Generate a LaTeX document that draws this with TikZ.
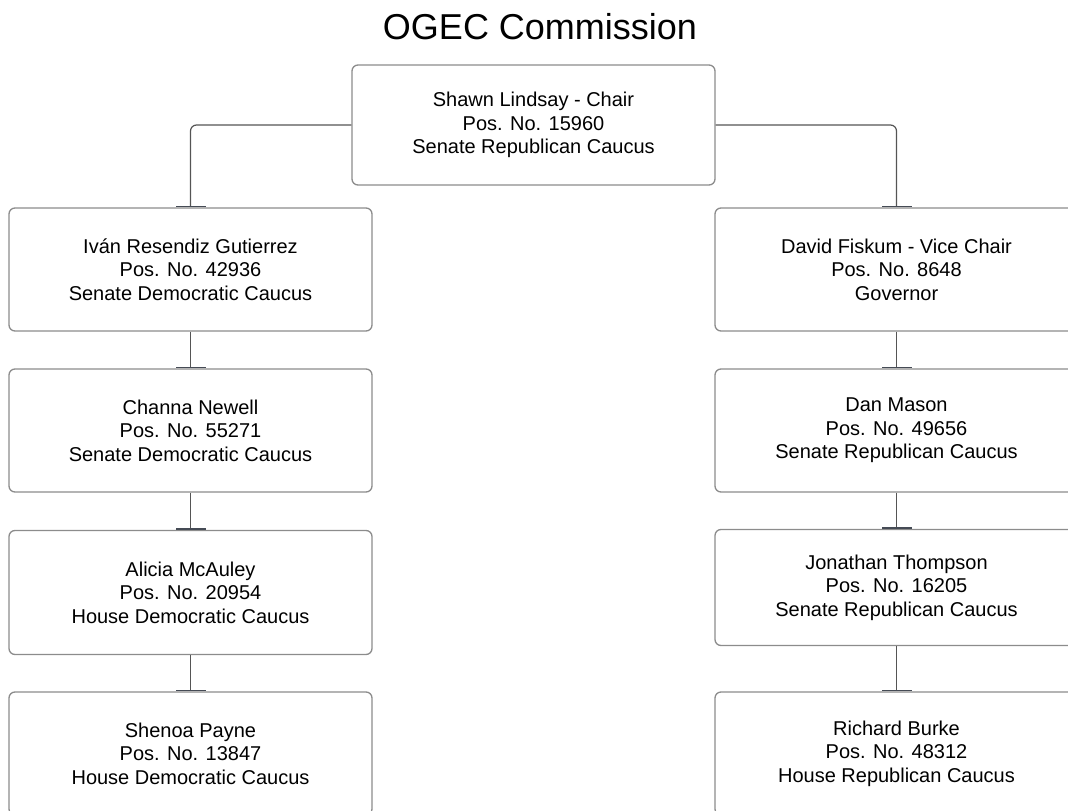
\documentclass[tikz,border=0pt]{standalone}
\usepackage{fontspec}
\setmainfont{Liberation Sans}
\usetikzlibrary{arrows.meta}
\definecolor{boxline}{HTML}{8C8C8C}
\definecolor{connline}{HTML}{555555}
\definecolor{barcol}{HTML}{454B55}
\tikzset{
  person/.style={draw=boxline, line width=1.3pt, rounded corners=6pt, fill=white,
    minimum width=363pt, align=center, inner sep=0pt,
    font=\fontsize{20}{23.5}\selectfont, text=black},
  conn/.style={draw=connline, line width=1.2pt, rounded corners=6pt,
    -{Bar[width=30pt,line width=1.8pt,sep=0pt,color=barcol]}},
}
\begin{document}
\begin{tikzpicture}[x=1pt,y=-1pt]
\useasboundingbox (0,0) rectangle (1068,811);
\clip (0,0) rectangle (1068,811);
\node[font=\fontsize{36}{40}\selectfont] (title) at (540,27) {OGEC Commission};
\node[person, minimum width=363pt, minimum height=120pt] (chair) at (533.5,125)
  {Shawn Lindsay - Chair\\Pos. No. 15960\\Senate Republican Caucus};
% left column
\node[person, minimum height=123pt] (l1) at (190.5,269.5)
  {Iván Resendiz Gutierrez\\Pos. No. 42936\\Senate Democratic Caucus};
\node[person, minimum height=123pt] (l2) at (190.5,430.5)
  {Channa Newell\\Pos. No. 55271\\Senate Democratic Caucus};
\node[person, minimum height=124pt] (l3) at (190.5,592.5)
  {Alicia McAuley\\Pos. No. 20954\\House Democratic Caucus};
\node[person, minimum height=123pt] (l4) at (190.5,753.5)
  {Shenoa Payne\\Pos. No. 13847\\House Democratic Caucus};
% right column
\node[person, minimum height=123pt] (r1) at (896.5,269.5)
  {David Fiskum - Vice Chair\\Pos. No. 8648\\Governor};
\node[person, minimum height=123pt] (r2) at (896.5,430.5)
  {Dan Mason\\Pos. No. 49656\\Senate Republican Caucus};
\node[person, minimum height=116pt] (r3) at (896.5,587.5)
  {Jonathan Thompson\\Pos. No. 16205\\Senate Republican Caucus};
\node[person, minimum height=123pt] (r4) at (896.5,753.5)
  {Richard Burke\\Pos. No. 48312\\House Republican Caucus};
% connectors
\draw[conn] (chair.west) -| (l1.north);
\draw[conn] (chair.east) -| (r1.north);
\draw[conn] (l1.south) -- (l2.north);
\draw[conn] (l2.south) -- (l3.north);
\draw[conn] (l3.south) -- (l4.north);
\draw[conn] (r1.south) -- (r2.north);
\draw[conn] (r2.south) -- (r3.north);
\draw[conn] (r3.south) -- (r4.north);
\end{tikzpicture}
\end{document}
